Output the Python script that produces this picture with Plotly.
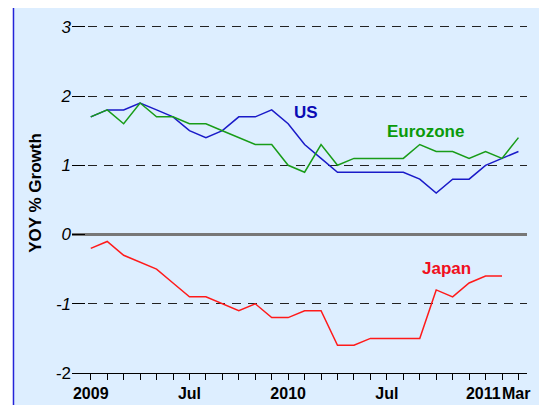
import plotly.graph_objects as go

months = ["2009-01","2009-02","2009-03","2009-04","2009-05","2009-06","2009-07","2009-08","2009-09",
          "2009-10","2009-11","2009-12","2010-01","2010-02","2010-03","2010-04","2010-05","2010-06",
          "2010-07","2010-08","2010-09","2010-10","2010-11","2010-12","2011-01","2011-02","2011-03"]

us = [1.7,1.8,1.8,1.9,1.8,1.7,1.5,1.4,1.5,1.7,1.7,1.8,1.6,1.3,1.1,0.9,0.9,0.9,0.9,0.9,0.8,0.6,0.8,0.8,1.0,1.1,1.2]
eurozone = [1.7,1.8,1.6,1.9,1.7,1.7,1.6,1.6,1.5,1.4,1.3,1.3,1.0,0.9,1.3,1.0,1.1,1.1,1.1,1.1,1.3,1.2,1.2,1.1,1.2,1.1,1.4]
japan = [-0.2,-0.1,-0.3,-0.4,-0.5,-0.7,-0.9,-0.9,-1.0,-1.1,-1.0,-1.2,-1.2,-1.1,-1.1,-1.6,-1.6,-1.5,-1.5,-1.5,-1.5,-0.8,-0.9,-0.7,-0.6,-0.6]

x_tick_labels = {"2009-01": "2009", "2009-07": "Jul", "2010-01": "2010", "2010-07": "Jul",
                 "2011-01": "2011 ", "2011-03": "Mar "}
y_tick_values = [-2, -1, 0, 1, 2, 3]
y_tick_labels = ["-2", "<i>-1</i>", "<i>0</i>", "<i>1</i>", "<i>2</i>", "<i>3</i>"]

series_labels = [("US", 13.1, 1.77, "#0a0ab4"), ("Eurozone", 20.35, 1.49, "#0a9a0a"), ("Japan", 21.64, -0.49, "#f01020")]

idx = list(range(len(months)))
FONT = "Liberation Sans, Arial, sans-serif"
BG = "#DDEEFF"

fig = go.Figure()
fig.add_trace(go.Scatter(x=idx[:len(us)], y=us, mode="lines", line=dict(color="#1a1ac8", width=1.5), name="US"))
fig.add_trace(go.Scatter(x=idx[:len(eurozone)], y=eurozone, mode="lines", line=dict(color="#189c18", width=1.5), name="Eurozone"))
fig.add_trace(go.Scatter(x=idx[:len(japan)], y=japan, mode="lines", line=dict(color="#ff1a1a", width=1.5), name="Japan"))

for text, xx, yy, col in series_labels:
    fig.add_annotation(x=xx, y=yy, text=f"<b>{text}</b>", showarrow=False,
                       font=dict(family=FONT, size=17, color=col))

# zero line dashes
fig.add_hline(y=0, line=dict(color="#1a1a1a", width=2, dash="10px,5px"), layer="below")

# background panel and its blue border
fig.add_shape(type="rect", xref="paper", yref="paper", x0=-0.1286, x1=1.2, y0=-0.2, y1=1.0158,
              fillcolor=BG, line=dict(width=0), layer="below")
fig.add_shape(type="line", xref="paper", yref="paper", x0=-0.1286, x1=-0.1286, y0=-0.2, y1=1.0158,
              line=dict(color="#2424d8", width=1.5), layer="below")
fig.add_shape(type="line", xref="paper", yref="paper", x0=-0.1286, x1=1.2, y0=1.0158, y1=1.0158,
              line=dict(color="#2424d8", width=1.5), layer="below")

fig.update_layout(
    width=539, height=397,
    margin=dict(l=64, r=20, t=5, b=32, autoexpand=False),
    paper_bgcolor="white", plot_bgcolor="rgba(0,0,0,0)",
    showlegend=False,
    font=dict(family=FONT, color="black"),
)
fig.update_xaxes(
    range=[-1.14, 26.52], showgrid=False, zeroline=False, automargin=False,
    showline=True, linecolor="black", linewidth=1,
    ticks="outside", ticklen=6, tickcolor="black", tickwidth=1,
    tickvals=idx, ticktext=[x_tick_labels.get(m, "") for m in months],
    tickangle=0, tickfont=dict(family=FONT, size=16, weight="bold"),
)
fig.update_yaxes(
    range=[-2, 3.2], tickvals=y_tick_values, ticktext=y_tick_labels, automargin=False,
    showgrid=True, gridcolor="#222222", gridwidth=1, griddash="9px,7px",
    zeroline=True, zerolinecolor="#777777", zerolinewidth=2.5,
    showline=False, ticks="inside", ticklen=13, tickcolor="black", tickwidth=1,
    tickfont=dict(family=FONT, size=17),
    title=dict(text="<b>YOY % Growth</b>", font=dict(family=FONT, size=17), standoff=9),
)

fig.write_html("out.html")
